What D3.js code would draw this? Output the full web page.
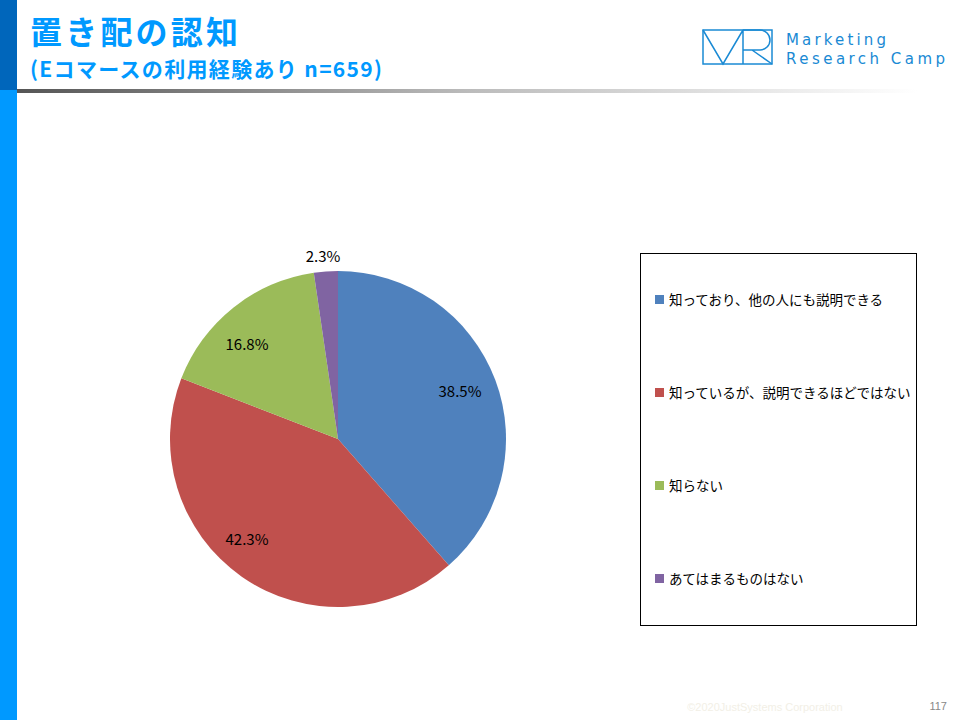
<!DOCTYPE html>
<html><head><meta charset="utf-8">
<script src="https://cdn.jsdelivr.net/npm/d3@7"></script>
<style>body{margin:0;background:#fff}svg{display:block;font-family:"Noto Sans CJK JP","Noto Sans",sans-serif}</style>
</head><body><svg id="c" width="960" height="720"></svg>
<script>
const categories=["知っており、他の人にも説明できる","知っているが、説明できるほどではない","知らない","あてはまるものはない"];
const values=[38.5,42.3,16.8,2.3];
const colors=["#4f81bd","#c0504d","#9bbb59","#8064a2"];
const labelPos=[[460,392],[247,540],[247,345],[323,257]];

const svg=d3.select("#c");
const defs=svg.append("defs");
const g=defs.append("linearGradient").attr("id","hl");
g.append("stop").attr("offset","0").attr("stop-color","#555");
g.append("stop").attr("offset","0.5").attr("stop-color","#bbb");
g.append("stop").attr("offset","1").attr("stop-color","#fff");
svg.append("rect").attr("x",0).attr("y",0).attr("width",17).attr("height",90).attr("fill","#0066bb");
svg.append("rect").attr("x",0).attr("y",90).attr("width",17).attr("height",630).attr("fill","#0099ff");
svg.append("rect").attr("x",17).attr("y",89).attr("width",900).attr("height",4).attr("fill","url(#hl)");
svg.append("text").attr("x",30).attr("y",44).attr("font-size",32).attr("font-weight","bold").attr("fill","#0099ff").attr("textLength",208).text("置き配の認知");
svg.append("text").attr("x",30).attr("y",77).attr("font-size",21).attr("font-weight","bold").attr("fill","#0099ff").attr("textLength",352).text("(Eコマースの利用経験あり n=659)");
const lg=svg.append("g").attr("stroke","#1a8ad4").attr("fill","none").attr("stroke-width",1.5);
lg.append("rect").attr("x",703).attr("y",30).attr("width",69).attr("height",34);
lg.append("path").attr("d","M703,30 L723,64 L743,30 M743,30 V64 M743,30 H760 A10,10 0 0 1 760,50 H743 M752,50 L772,64");
svg.append("text").attr("x",786).attr("y",45).attr("font-size",15).attr("textLength",100).attr("fill","#1a8ad4").attr("font-family","DejaVu Sans").text("Marketing");
svg.append("text").attr("x",786).attr("y",64).attr("font-size",15).attr("textLength",159).attr("fill","#1a8ad4").attr("font-family","DejaVu Sans").text("Research Camp");

const pie=d3.pie().sort(null).value(d=>d)(values);
const arc=d3.arc().innerRadius(0).outerRadius(168);
const pg=svg.append("g").attr("transform","translate(338,439)");
pg.selectAll("path").data(pie).join("path").attr("d",arc).attr("fill",(d,i)=>colors[i]);
svg.selectAll("text.lab").data(values).join("text").attr("class","lab")
 .attr("x",(d,i)=>labelPos[i][0]).attr("y",(d,i)=>labelPos[i][1]+5).attr("text-anchor","middle")
 .attr("font-size",15).attr("fill","#000").text(d=>d.toFixed(1)+"%");

svg.append("rect").attr("x",640.5).attr("y",253.5).attr("width",276).attr("height",372).attr("fill","none").attr("stroke","#000");
const le=svg.selectAll("g.le").data(categories).join("g").attr("class","le").attr("transform",(d,i)=>`translate(655,${300+i*93})`);
le.append("rect").attr("x",0).attr("y",-5).attr("width",9).attr("height",9).attr("fill",(d,i)=>colors[i]);
le.append("text").attr("x",14).attr("y",5).attr("font-size",13.5).attr("fill","#000").text(d=>d);

svg.append("text").attr("x",765).attr("y",711).attr("text-anchor","middle").attr("font-size",11).attr("fill","#f2efe6").attr("font-family","Liberation Sans").text("©2020JustSystems Corporation");
svg.append("text").attr("x",947).attr("y",710).attr("text-anchor","end").attr("font-size",11).attr("fill","#888").attr("font-family","Liberation Sans").text("117");
</script></body></html>
